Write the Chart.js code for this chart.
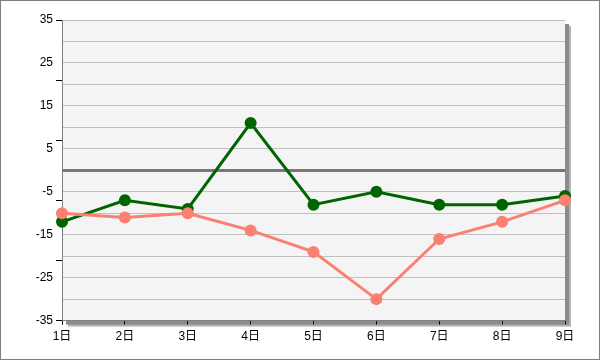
<!DOCTYPE html>
<html>
<head>
<meta charset="utf-8">
<script src="https://cdn.jsdelivr.net/npm/chart.js@4"></script>
<style>
html,body{margin:0;padding:0;background:#fff;}
#wrap{width:600px;height:360px;position:relative;}
</style>
</head>
<body>
<div id="wrap"><canvas id="c" width="600" height="360"></canvas></div>
<script>
const categories = ['1日','2日','3日','4日','5日','6日','7日','8日','9日'];
const greenSeries = [-12, -7, -9, 11, -8, -5, -8, -8, -6];
const salmonSeries = [-10, -11, -10, -14, -19, -30, -16, -12, -7];
const yMin = -35, yMax = 35;

const framePlugin = {
  id: 'frame',
  beforeDraw(chart) {
    const {ctx, chartArea: a} = chart;
    ctx.save();
    ctx.fillStyle = '#ffffff';
    ctx.fillRect(0, 0, chart.width, chart.height);
    ctx.fillStyle = '#b4b4b4';
    ctx.fillRect(a.left + 6, a.top + 6, a.right - a.left, a.bottom - a.top);
    ctx.fillStyle = '#8c8c8c';
    ctx.fillRect(a.left + 4, a.top + 4, a.right - a.left, a.bottom - a.top);
    ctx.fillStyle = '#f4f4f4';
    ctx.fillRect(a.left, a.top, a.right - a.left, a.bottom - a.top);
    ctx.restore();
  },
  afterDraw(chart) {
    const {ctx} = chart;
    ctx.save();
    ctx.strokeStyle = '#808080';
    ctx.lineWidth = 1;
    ctx.strokeRect(0.5, 0.5, chart.width - 1, chart.height - 1);
    ctx.restore();
  }
};

new Chart(document.getElementById('c'), {
  type: 'line',
  data: {
    labels: categories,
    datasets: [
      {data: salmonSeries, borderColor: '#FA8072', backgroundColor: '#FA8072', borderWidth: 3, pointRadius: 6, pointBorderWidth: 0, tension: 0},
      {data: greenSeries, borderColor: '#006400', backgroundColor: '#006400', borderWidth: 3, pointRadius: 6, pointBorderWidth: 0, tension: 0}
    ]
  },
  options: {
    responsive: false,
    animation: false,
    layout: {padding: {left: 0, top: 20, right: 35, bottom: 11}},
    plugins: {legend: {display: false}, tooltip: {enabled: false}},
    scales: {
      x: {
        offset: false,
        grid: {drawOnChartArea: false, drawTicks: true, tickLength: 4, color: '#000000'},
        border: {display: true, color: '#808080', width: 1},
        ticks: {color: '#000', font: {family: 'Liberation Sans, "Noto Sans CJK SC"', size: 12}, padding: 5, maxRotation: 0, autoSkip: false}
      },
      y2: {
        position: 'left',
        min: yMin, max: yMax,
        grid: {drawOnChartArea: false, drawTicks: true, tickLength: 6, color: '#000000'},
        border: {display: true, color: '#808080', width: 1},
        ticks: {stepSize: 14, callback: () => '', padding: 0, font: {size: 1}},
        afterFit: s => { s.width = 6; }
      },
      y: {
        position: 'left',
        min: yMin, max: yMax,
        grid: {
          drawTicks: false,
          color: ctx => ctx.tick && ctx.tick.value === 0 ? '#777777' : '#c0c0c0',
          lineWidth: ctx => ctx.tick && ctx.tick.value === 0 ? 3 : 1
        },
        border: {display: false},
        ticks: {
          stepSize: 5,
          color: '#000',
          padding: 3,
          font: {family: 'Liberation Sans, "Noto Sans CJK SC"', size: 12},
          callback: v => (((v - yMin) / 5) % 2 === 0) ? String(v) : ''
        },
        afterFit: s => { s.width = 56; }
      }
    }
  },
  plugins: [framePlugin]
});
</script>
</body>
</html>
